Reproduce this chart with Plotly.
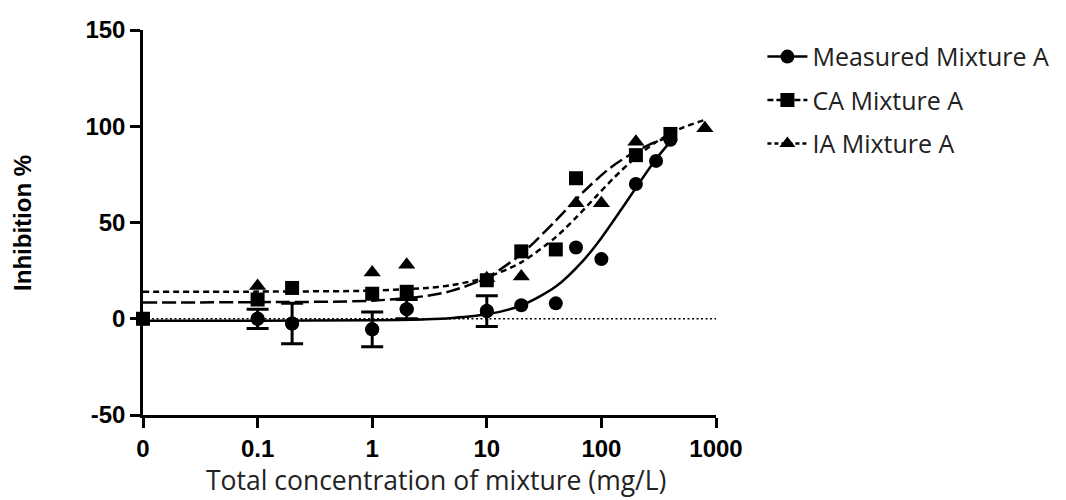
import plotly.graph_objects as go

# ---------------- data ----------------
conc_measured = [0, 0.1, 0.2, 1, 2, 10, 20, 40, 60, 100, 200, 300, 400]
inhib_measured = [0, 0, -2.5, -5.5, 5, 4, 7, 8, 37, 31, 70, 82, 93]
err_measured = [None, 5, 10.5, 9, 5, 8, None, None, None, None, None, None, None]

conc_ca = [0, 0.1, 0.2, 1, 2, 10, 20, 40, 60, 200, 400]
inhib_ca = [0, 10, 16, 13, 14, 20, 35, 36, 73, 85, 96]

conc_ia = [0.1, 1, 2, 10, 20, 60, 100, 200, 800]
inhib_ia = [17, 24, 28, 21, 22, 60, 60, 92, 99]

# fitted curves
fit_measured_x = [0, 0.1, 1, 3, 5, 10, 20, 40, 70, 100, 150, 200, 300, 400]
fit_measured_y = [-1, -1, -0.8, -0.3, 0.4, 2.3, 6.9, 16.7, 30.5, 42, 57, 68, 83, 92]

fit_ca_x = [0, 0.1, 1, 3, 5, 10, 20, 40, 70, 120, 200, 300, 400]
fit_ca_y = [8.5, 8.6, 9.4, 11.9, 14.6, 21.4, 33.6, 51, 66, 78.5, 87, 92, 94.5]

fit_ia_x = [0, 0.1, 1, 3, 5, 10, 20, 40, 60, 90, 130, 200, 300, 500, 800]
fit_ia_y = [14, 14.1, 14.6, 16, 17.5, 21.6, 29.3, 42.4, 52.5, 63.6, 73.5, 83.9, 91.8, 99, 103.3]

baseline_x = [0, 1000]
baseline_y = [0, 0]

x_ticks = [0, 0.1, 1, 10, 100, 1000]
x_tick_labels = ["0", "0.1", "1", "10", "100", "1000"]
y_ticks = [-50, 0, 50, 100, 150]
y_tick_labels = ["-50", "0", "50", "100", "150"]

series_names = ["Measured Mixture A", "CA Mixture A", "IA Mixture A"]

# a concentration of 0 is drawn one decade below 0.1 on the log axis
ZERO_POS = 0.01


def pos(xs):
    return [ZERO_POS if v == 0 else v for v in xs]


BLACK = "#000000"
LW = 2.5

fig = go.Figure()

# zero reference line (dotted)
fig.add_trace(go.Scatter(x=pos(baseline_x), y=baseline_y, mode="lines",
                         line=dict(color=BLACK, width=1.5, dash="2px,2.5px"),
                         showlegend=False, hoverinfo="skip"))

# fitted curves
fig.add_trace(go.Scatter(x=pos(fit_measured_x), y=fit_measured_y, mode="lines",
                         line=dict(color=BLACK, width=LW, shape="spline", smoothing=0.8),
                         showlegend=False))
fig.add_trace(go.Scatter(x=pos(fit_ca_x), y=fit_ca_y, mode="lines",
                         line=dict(color=BLACK, width=LW, shape="spline", smoothing=0.8,
                                   dash="14px,5px"),
                         showlegend=False))
fig.add_trace(go.Scatter(x=pos(fit_ia_x), y=fit_ia_y, mode="lines",
                         line=dict(color=BLACK, width=LW, shape="spline", smoothing=0.8,
                                   dash="6px,4px"),
                         showlegend=False))

# error bars of the measured points (only where the reference shows one)
err_idx = [i for i, e in enumerate(err_measured) if e is not None]
fig.add_trace(go.Scatter(x=pos([conc_measured[i] for i in err_idx]),
                         y=[inhib_measured[i] for i in err_idx], mode="markers",
                         marker=dict(symbol="circle", size=14, color=BLACK),
                         error_y=dict(type="data", array=[err_measured[i] for i in err_idx],
                                      visible=True, color=BLACK, thickness=3, width=11),
                         cliponaxis=False, showlegend=False))

# data points
fig.add_trace(go.Scatter(x=pos(conc_measured), y=inhib_measured, mode="markers",
                         marker=dict(symbol="circle", size=14, color=BLACK),
                         cliponaxis=False, showlegend=False))
fig.add_trace(go.Scatter(x=pos(conc_ca), y=inhib_ca, mode="markers",
                         marker=dict(symbol="square", size=14, color=BLACK),
                         cliponaxis=False, showlegend=False))
fig.add_trace(go.Scatter(x=pos(conc_ia), y=inhib_ia, mode="markers",
                         marker=dict(symbol="triangle-up", size=15, color=BLACK),
                         cliponaxis=False, showlegend=False))

# legend entries
legend_styles = [
    (dict(color=BLACK, width=LW), "circle"),
    (dict(color=BLACK, width=LW, dash="6px,3px"), "square"),
    (dict(color=BLACK, width=LW, dash="4px,3px"), "triangle-up"),
]
for i, (name, (ln, sym)) in enumerate(zip(series_names, legend_styles)):
    fig.add_trace(go.Scatter(x=[None], y=[None], mode="lines+markers", name=name,
                             line=ln, marker=dict(symbol=sym, size=14, color=BLACK),
                             legendgroup=f"g{i}"))

axis_font = dict(family="Liberation Sans, Arial, sans-serif", size=24, color=BLACK)

fig.update_layout(
    width=1066, height=500,
    margin=dict(l=143, r=348, t=30, b=85),
    paper_bgcolor="white", plot_bgcolor="white",
    showlegend=True,
    legend=dict(x=1.081, xanchor="left", y=0.99, yanchor="top",
                font=dict(family="Open Sans, sans-serif", size=25, color="#222222"),
                itemwidth=40, traceorder="grouped", tracegroupgap=8,
                bgcolor="rgba(0,0,0,0)"),
    xaxis=dict(type="log", range=[-2, 3], tickmode="array",
               tickvals=pos(x_ticks), ticktext=x_tick_labels,
               showline=True, linecolor=BLACK, linewidth=LW,
               ticks="outside", ticklen=10, tickwidth=LW, tickcolor=BLACK,
               showgrid=False, zeroline=False,
               tickfont=dict(axis_font, weight="bold")),
    yaxis=dict(range=[-50, 150], tickmode="array", tickvals=y_ticks,
               ticktext=y_tick_labels,
               showline=True, linecolor=BLACK, linewidth=LW,
               ticks="outside", ticklen=10, tickwidth=LW, tickcolor=BLACK,
               showgrid=False, zeroline=False,
               tickfont=dict(axis_font, weight="bold")),
    annotations=[
        dict(text="Inhibition %", xref="paper", yref="paper",
             x=(22 - 143) / 575, y=0.5, textangle=-90, showarrow=False,
             font=dict(family="Liberation Sans, Arial, sans-serif", size=24,
                       color=BLACK, weight="bold"),
             xanchor="center", yanchor="middle"),
        dict(text="Total concentration of mixture (mg/L)", xref="paper", yref="paper",
             x=(437 - 143) / 575, y=(415 - 480) / 385, showarrow=False,
             font=dict(family="Open Sans, sans-serif", size=26.5, color="#222222"),
             xanchor="center", yanchor="middle"),
    ],
)

fig.write_html("out.html")
